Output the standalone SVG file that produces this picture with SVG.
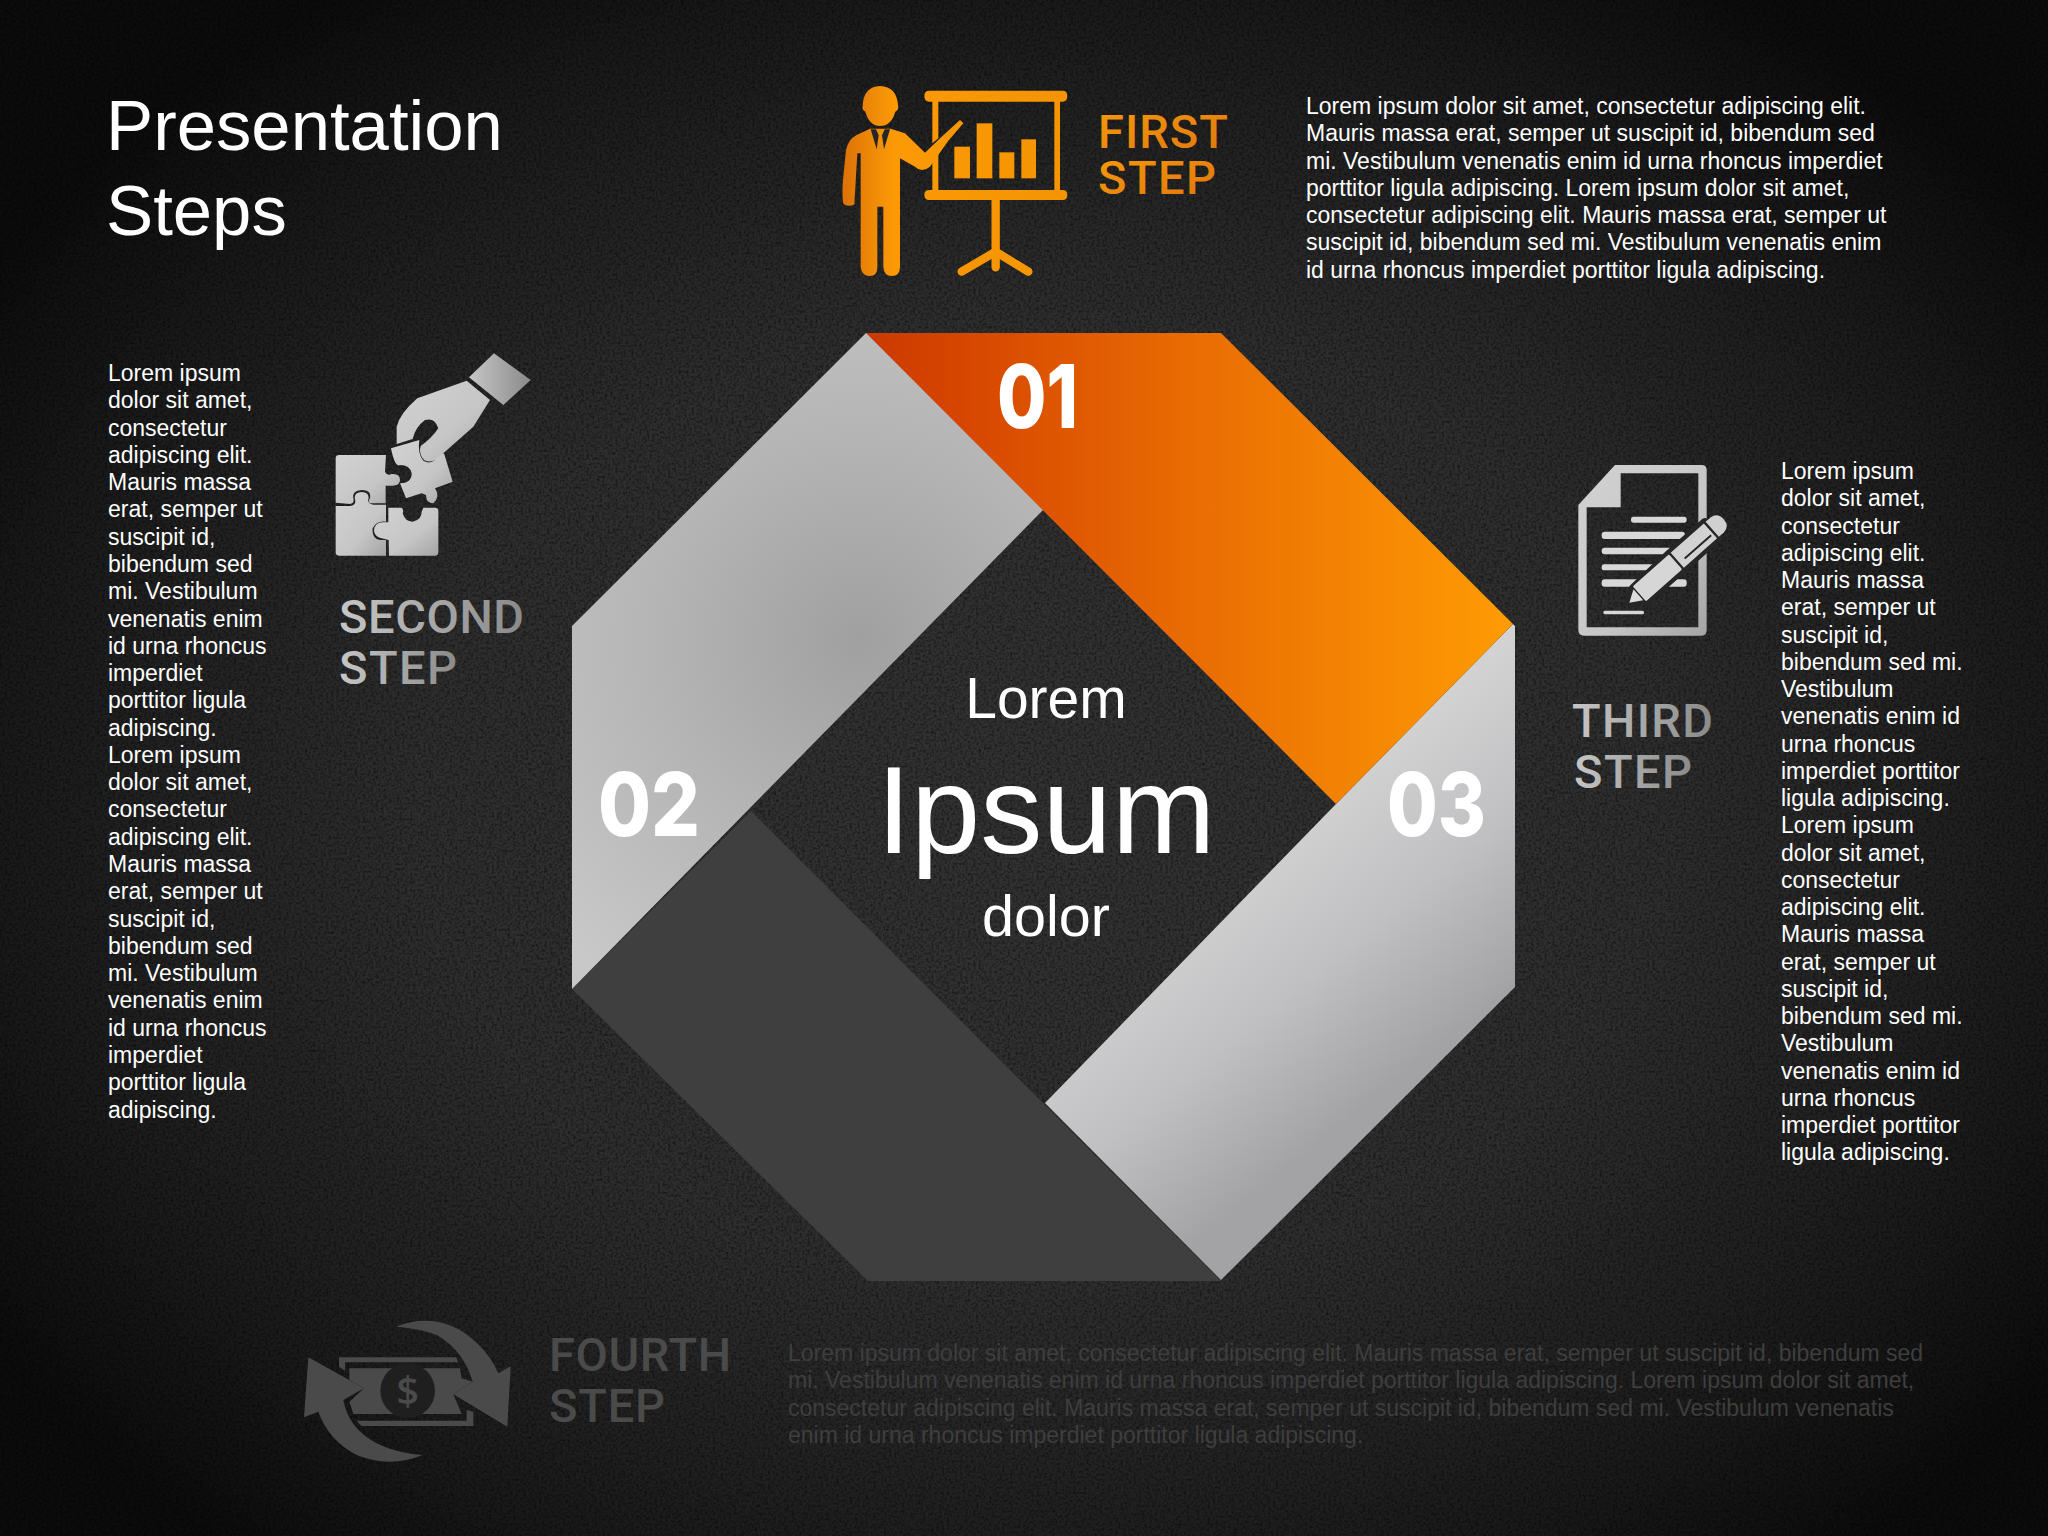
<svg xmlns="http://www.w3.org/2000/svg" width="2048" height="1536" viewBox="0 0 2048 1536">
<defs>
<radialGradient id="bg" gradientUnits="userSpaceOnUse" cx="1040" cy="800" r="1250" gradientTransform="translate(0 180) scale(1 .78)"><stop offset="0" stop-color="#323232"/><stop offset=".5" stop-color="#2e2e2e"/><stop offset=".8" stop-color="#1c1c1c"/><stop offset="1" stop-color="#0c0c0c"/></radialGradient>
<filter id="grain" x="0" y="0" width="100%" height="100%"><feTurbulence type="fractalNoise" baseFrequency=".38" numOctaves="4" seed="4"/><feColorMatrix values="0 0 0 0 0  0 0 0 0 0  0 0 0 0 0  1.8 0 0 0 -.72"/></filter>
<linearGradient id="or" gradientUnits="userSpaceOnUse" x1="867" y1="0" x2="1513" y2="0"><stop offset="0" stop-color="#c93a00"/><stop offset=".12" stop-color="#d54300"/><stop offset=".5" stop-color="#e96c03"/><stop offset="1" stop-color="#ff9c04"/></linearGradient>
<radialGradient id="g2" gradientUnits="userSpaceOnUse" cx="860" cy="640" r="420"><stop offset="0" stop-color="#a0a0a1"/><stop offset=".5" stop-color="#b6b5b6"/><stop offset="1" stop-color="#c8c8c9"/></radialGradient>
<linearGradient id="g3" gradientUnits="userSpaceOnUse" x1="1190" y1="900" x2="1360" y2="1110"><stop offset="0" stop-color="#d2d2d3"/><stop offset=".5" stop-color="#c0bfc1"/><stop offset="1" stop-color="#a3a2a5"/></linearGradient>
<linearGradient id="ico" x1="0" y1="0" x2="1" y2="1"><stop offset="0" stop-color="#d2d2d2"/><stop offset=".6" stop-color="#c6c6c6"/><stop offset="1" stop-color="#a4a4a4"/></linearGradient>
<linearGradient id="icoO" gradientUnits="userSpaceOnUse" x1="70" y1="0" x2="750" y2="0"><stop offset="0" stop-color="#dd7208"/><stop offset=".22" stop-color="#fb9a05"/><stop offset="1" stop-color="#f59403"/></linearGradient>
<linearGradient id="tO" x1="0" y1="0" x2="1" y2="1"><stop offset="0" stop-color="#f89a08"/><stop offset="1" stop-color="#dd7510"/></linearGradient>
<linearGradient id="tG" x1="0" y1="0" x2="1" y2="0"><stop offset="0" stop-color="#c6c6c6"/><stop offset="1" stop-color="#8a8a8a"/></linearGradient>
</defs>
<style>
text{font-family:"Liberation Sans",Arial,sans-serif}
.body{font-size:23px;fill:#fff}
.dim{font-size:23px;fill:#3e3e3e}
.title{font-size:70.7px;fill:#fff}
.c{fill:#fff;text-anchor:middle}
.num{font-family:Inter,sans-serif;font-weight:800;font-size:88px;fill:#fff}
.lab{font-family:Roboto,sans-serif;font-weight:500;font-size:47px}
</style>
<rect id="background" width="2048" height="1536" fill="url(#bg)"/>
<rect id="grain-layer" width="2048" height="1536" filter="url(#grain)" opacity=".6"/>

<g id="title"><text class="title" x="106" y="150">Presentation</text><text class="title" x="106" y="235">Steps</text></g>

<g id="octagon">
<polygon id="seg-dark" fill="#403f40" points="572,989 751,811 1221,1281 868,1281"/>
<polygon id="seg-03" fill="url(#g3)" points="1513,624 1515,626 1515,987 1221,1280 1045,1103 1336,804"/>
<polygon id="seg-02" fill="url(#g2)" points="866,333 870,333 1045,509 1042,511 572,989 572,626"/>
<polygon id="seg-01" fill="url(#or)" points="866,333 1221,333 1513,624 1336,804"/>
<text class="num" x="997" y="428" textLength="81" lengthAdjust="spacingAndGlyphs">01</text>
<text class="num" x="598" y="836" textLength="102" lengthAdjust="spacingAndGlyphs">02</text>
<text class="num" x="1387" y="836" textLength="99" lengthAdjust="spacingAndGlyphs">03</text>
</g>
<g id="center-label">
<text class="c" x="1046" y="718" font-size="57">Lorem</text>
<text class="c" x="1046" y="853" font-size="124.5">Ipsum</text>
<text class="c" x="1046" y="936" font-size="57.5">dolor</text>
</g>

<g id="step-1">
<g transform="translate(820 70) scale(.33333)" fill="url(#icoO)">
<path d="M128,108 Q130,50 180,48 Q230,50 234,105 Q238,118 226,125 Q214,168 180,168 Q148,168 136,125 Q124,118 128,108Z"/>
<path d="M150,176 L110,195 Q85,208 78,240 L68,340 Q66,400 72,403 Q88,412 103,403 L112,250 L122,250 L122,590 Q125,618 150,618 Q172,618 172,590 L172,410 L190,410 L190,590 Q192,618 215,618 Q240,618 240,590 L240,265 L285,290 Q305,310 330,290 L385,212 L430,160 L420,150 L365,200 L315,248 L255,190 L212,176Z"/>
<path d="M152,178 H168 L176,196 L170,238Z M210,178 H194 L186,196 L192,238Z" fill="#262626"/>
<path d="M328,62 H728 Q742,62 742,78 Q742,95 728,95 H720 V360 H728 Q742,360 742,375 Q742,390 728,390 H328 Q313,390 313,375 Q313,360 328,360 H337 V255 L355,235 V360 H703 V95 H355 V205 L337,220 V95 H328 Q313,95 313,78 Q313,62 328,62Z"/>
<path d="M527,390 V592 M527,545 L425,605 M527,545 L625,605" fill="none" stroke="#f79604" stroke-width="25" stroke-linecap="round"/>
<rect x="403" y="230" width="47" height="95"/><rect x="470" y="160" width="47" height="165"/><rect x="538" y="247" width="45" height="78"/><rect x="604" y="208" width="44" height="117"/>
</g>
<text class="lab" fill="url(#tO)" x="1098" y="148" textLength="130" lengthAdjust="spacing">FIRST</text>
<text class="lab" fill="url(#tO)" x="1098" y="194" textLength="118" lengthAdjust="spacing">STEP</text>
<text class="body" x="1306" y="114"><tspan x="1306">Lorem ipsum dolor sit amet, consectetur adipiscing elit.</tspan><tspan x="1306" dy="27.25">Mauris massa erat, semper ut suscipit id, bibendum sed</tspan><tspan x="1306" dy="27.25">mi. Vestibulum venenatis enim id urna rhoncus imperdiet</tspan><tspan x="1306" dy="27.25">porttitor ligula adipiscing. Lorem ipsum dolor sit amet,</tspan><tspan x="1306" dy="27.25">consectetur adipiscing elit. Mauris massa erat, semper ut</tspan><tspan x="1306" dy="27.25">suscipit id, bibendum sed mi. Vestibulum venenatis enim</tspan><tspan x="1306" dy="27.25">id urna rhoncus imperdiet porttitor ligula adipiscing.</tspan></text>
</g>

<g id="step-2">
<g transform="translate(320 340) scale(.33333)" fill="url(#ico)">
<polygon points="447,112 522,40 632,120 550,195" fill="url(#tG)"/>
<path d="M230,312 L230,260 Q240,220 292,175 L440,122 L510,180 L460,260 L370,340 Q340,375 312,360 Q295,340 302,318 Q335,295 355,265 Q345,232 315,240 Q285,262 278,297Z"/>
<path d="M58,345 H198 L195,395 Q200,408 215,402 Q240,400 240,420 Q240,438 215,437 H197 V490 H155 Q140,490 150,475 Q155,450 125,450 Q95,452 100,475 Q105,490 90,492 L47,488 V355 Q47,345 58,345Z"/>
<path d="M47,498 H90 Q110,495 105,478 Q100,458 125,456 Q150,458 145,478 Q142,492 160,494 H198 V545 Q170,540 158,565 Q155,595 180,600 H198 V647 H58 Q47,647 47,637Z"/>
<path d="M205,503 H245 Q252,510 248,520 Q255,545 278,545 Q305,540 305,515 L310,503 H345 Q355,503 355,513 V637 Q355,647 345,647 H207 L206,600 L185,595 Q162,590 162,570 Q165,548 188,547 H205Z"/>
<path d="M213,325 L298,300 Q292,340 310,362 Q335,378 358,345 L372,340 L398,425 L345,445 Q362,470 340,490 Q318,490 318,465 L305,460 L258,475 L240,430 Q275,430 275,400 Q270,375 240,375 Q225,385 213,325Z"/>
</g>
<text class="lab" fill="url(#tG)" x="339" y="633" textLength="185" lengthAdjust="spacing">SECOND</text>
<text class="lab" fill="url(#tG)" x="339" y="684" textLength="118" lengthAdjust="spacing">STEP</text>
<text class="body" x="108" y="381"><tspan x="108">Lorem ipsum</tspan><tspan x="108" dy="27.28">dolor sit amet,</tspan><tspan x="108" dy="27.28">consectetur</tspan><tspan x="108" dy="27.28">adipiscing elit.</tspan><tspan x="108" dy="27.28">Mauris massa</tspan><tspan x="108" dy="27.28">erat, semper ut</tspan><tspan x="108" dy="27.28">suscipit id,</tspan><tspan x="108" dy="27.28">bibendum sed</tspan><tspan x="108" dy="27.28">mi. Vestibulum</tspan><tspan x="108" dy="27.28">venenatis enim</tspan><tspan x="108" dy="27.28">id urna rhoncus</tspan><tspan x="108" dy="27.28">imperdiet</tspan><tspan x="108" dy="27.28">porttitor ligula</tspan><tspan x="108" dy="27.28">adipiscing.</tspan><tspan x="108" dy="27.28">Lorem ipsum</tspan><tspan x="108" dy="27.28">dolor sit amet,</tspan><tspan x="108" dy="27.28">consectetur</tspan><tspan x="108" dy="27.28">adipiscing elit.</tspan><tspan x="108" dy="27.28">Mauris massa</tspan><tspan x="108" dy="27.28">erat, semper ut</tspan><tspan x="108" dy="27.28">suscipit id,</tspan><tspan x="108" dy="27.28">bibendum sed</tspan><tspan x="108" dy="27.28">mi. Vestibulum</tspan><tspan x="108" dy="27.28">venenatis enim</tspan><tspan x="108" dy="27.28">id urna rhoncus</tspan><tspan x="108" dy="27.28">imperdiet</tspan><tspan x="108" dy="27.28">porttitor ligula</tspan><tspan x="108" dy="27.28">adipiscing.</tspan></text>
</g>

<g id="step-3">
<g transform="translate(1560 450) scale(.33333)">
<path fill="url(#ico)" fill-rule="evenodd" d="M55,165 L165,45 H425 Q440,45 440,60 V540 Q440,557 425,557 H72 Q55,557 55,540Z M80,172 V532 H415 V70 H182 V172Z"/>
<g fill="#d8d8d8">
<rect x="213" y="200" width="167" height="18" rx="8"/><rect x="125" y="245" width="250" height="22" rx="9"/><rect x="125" y="293" width="210" height="20" rx="9"/><rect x="125" y="343" width="170" height="18" rx="8"/><rect x="125" y="388" width="255" height="22" rx="9"/><rect x="130" y="482" width="122" height="11" rx="5"/>
</g>
<g transform="translate(208 458) rotate(-41.5)">
<path d="M0,0 L36,-24 L190,-30 L196,-30 L330,-30 L330,30 L40,30 L34,22Z" fill="#262626" stroke="#262626" stroke-width="26" stroke-linejoin="round"/>
<path d="M0,0 L36,22 L36,-22Z" fill="#dcdcdc"/>
<rect x="40" y="-30" width="145" height="60" rx="4" fill="#d6d6d6"/>
<path d="M192,-30 H325 V30 H192Z M212,8 V14 H318 V8Z" fill="#d2d2d2" fill-rule="evenodd"/>
<path d="M332,-30 H352 Q378,-28 378,0 Q378,28 352,30 H332Z" fill="#d0d0d0"/>
</g>
</g>
<text class="lab" fill="url(#tG)" x="1572" y="737" textLength="141" lengthAdjust="spacing">THIRD</text>
<text class="lab" fill="url(#tG)" x="1574" y="788" textLength="118" lengthAdjust="spacing">STEP</text>
<text class="body" x="1781" y="479"><tspan x="1781">Lorem ipsum</tspan><tspan x="1781" dy="27.25">dolor sit amet,</tspan><tspan x="1781" dy="27.25">consectetur</tspan><tspan x="1781" dy="27.25">adipiscing elit.</tspan><tspan x="1781" dy="27.25">Mauris massa</tspan><tspan x="1781" dy="27.25">erat, semper ut</tspan><tspan x="1781" dy="27.25">suscipit id,</tspan><tspan x="1781" dy="27.25">bibendum sed mi.</tspan><tspan x="1781" dy="27.25">Vestibulum</tspan><tspan x="1781" dy="27.25">venenatis enim id</tspan><tspan x="1781" dy="27.25">urna rhoncus</tspan><tspan x="1781" dy="27.25">imperdiet porttitor</tspan><tspan x="1781" dy="27.25">ligula adipiscing.</tspan><tspan x="1781" dy="27.25">Lorem ipsum</tspan><tspan x="1781" dy="27.25">dolor sit amet,</tspan><tspan x="1781" dy="27.25">consectetur</tspan><tspan x="1781" dy="27.25">adipiscing elit.</tspan><tspan x="1781" dy="27.25">Mauris massa</tspan><tspan x="1781" dy="27.25">erat, semper ut</tspan><tspan x="1781" dy="27.25">suscipit id,</tspan><tspan x="1781" dy="27.25">bibendum sed mi.</tspan><tspan x="1781" dy="27.25">Vestibulum</tspan><tspan x="1781" dy="27.25">venenatis enim id</tspan><tspan x="1781" dy="27.25">urna rhoncus</tspan><tspan x="1781" dy="27.25">imperdiet porttitor</tspan><tspan x="1781" dy="27.25">ligula adipiscing.</tspan></text>
</g>

<g id="step-4">
<g transform="translate(290 1300) scale(.33333)" fill="#4a4a4a">
<path d="M318,80 Q420,40 510,90 Q590,140 625,220 L662,198 L652,380 L490,283 L548,245 Q520,150 440,105 Q390,85 318,80Z"/>
<path d="M398,465 Q300,505 200,465 Q115,420 85,335 L42,352 L55,172 L222,265 L160,300 Q175,385 260,430 Q320,460 398,465Z"/>
<path d="M147,172 H498 L505,187 H165 V212 L147,200Z"/>
<path d="M200,362 H530 V330 L550,335 V378 H215Z"/>
<path d="M178,205 H510 L515,235 L548,245 L490,283 L515,342 H190 L178,305 L222,265 L178,240Z"/>
<circle cx="353" cy="272" r="82" fill="#1f1f1f"/>
<text x="353" y="315" text-anchor="middle" font-size="118" style="font-family:'Open Sans',sans-serif;font-weight:600">$</text>
</g>
<text class="lab" fill="#4a4a4a" x="549" y="1371" textLength="182" lengthAdjust="spacing">FOURTH</text>
<text class="lab" fill="#4a4a4a" x="549" y="1422" textLength="116" lengthAdjust="spacing">STEP</text>
<text class="dim" x="788" y="1361"><tspan x="788">Lorem ipsum dolor sit amet, consectetur adipiscing elit. Mauris massa erat, semper ut suscipit id, bibendum sed</tspan><tspan x="788" dy="27.25">mi. Vestibulum venenatis enim id urna rhoncus imperdiet porttitor ligula adipiscing. Lorem ipsum dolor sit amet,</tspan><tspan x="788" dy="27.25">consectetur adipiscing elit. Mauris massa erat, semper ut suscipit id, bibendum sed mi. Vestibulum venenatis</tspan><tspan x="788" dy="27.25">enim id urna rhoncus imperdiet porttitor ligula adipiscing.</tspan></text>
</g>
</svg>
